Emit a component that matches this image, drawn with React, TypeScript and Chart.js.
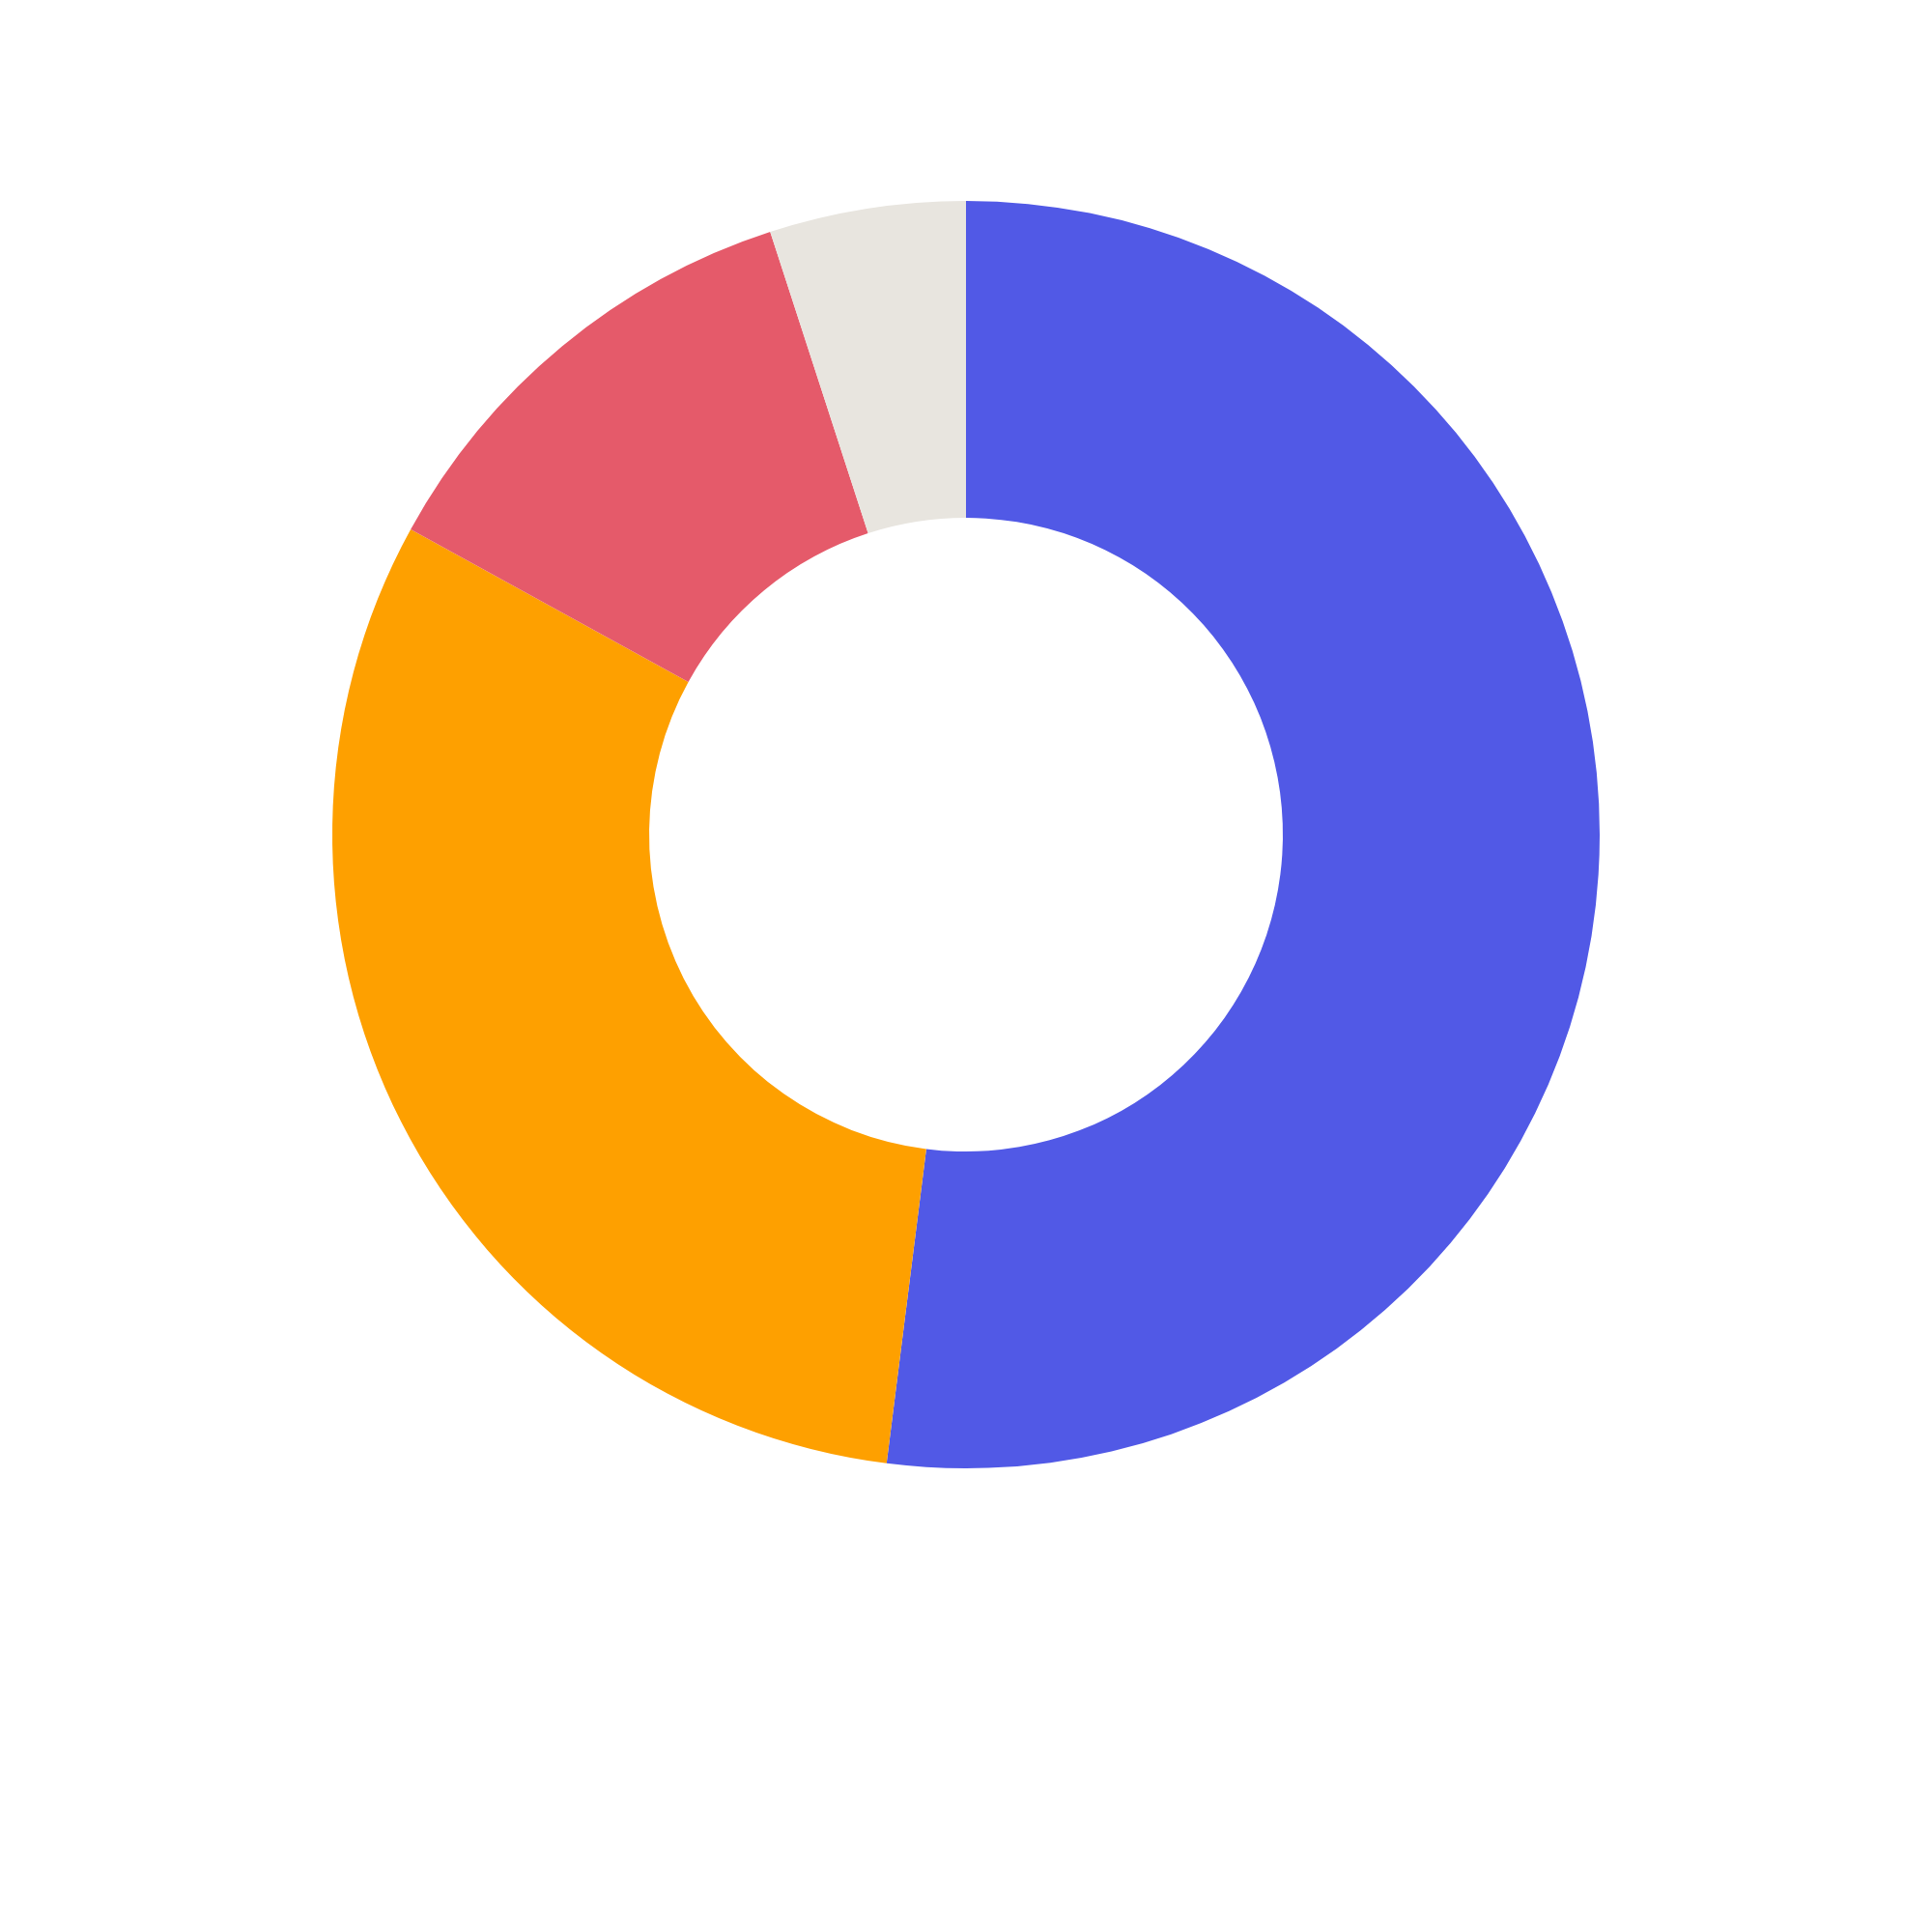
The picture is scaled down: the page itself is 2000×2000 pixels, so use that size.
import React, { useEffect, useRef } from "react";
import Chart from "chart.js/auto";

const labels = ["A", "B", "C", "D"];
const values = [52, 31, 12, 5];
const colors = ["#5159E6", "#FEA000", "#E55A6A", "#E8E5DF"];

const DonutChart: React.FC = () => {
    const chartRef = useRef<HTMLCanvasElement | null>(null);

    useEffect(() => {
        if (!chartRef.current) return;
        const ctx = chartRef.current.getContext("2d");
        if (!ctx) return;

        const chart = new Chart(ctx, {
            type: "doughnut",
            data: {
                labels,
                datasets: [
                    {
                        data: values,
                        backgroundColor: colors,
                        borderWidth: 0,
                    },
                ],
            },
            options: {
                animation: false,
                responsive: true,
                maintainAspectRatio: false,
                cutout: "50%",
                layout: { padding: { top: 200, bottom: 472, left: 0, right: 0 } },
                plugins: {
                    legend: { display: false },
                    tooltip: { enabled: false },
                },
            },
        });

        return () => {
            chart.destroy();
        };
    }, []);

    return (
        <div style={{ position: "relative", width: 1984, height: 1984 }}>
            <canvas ref={chartRef}></canvas>
        </div>
    );
};

export default function App() {
    return <DonutChart />;
}
